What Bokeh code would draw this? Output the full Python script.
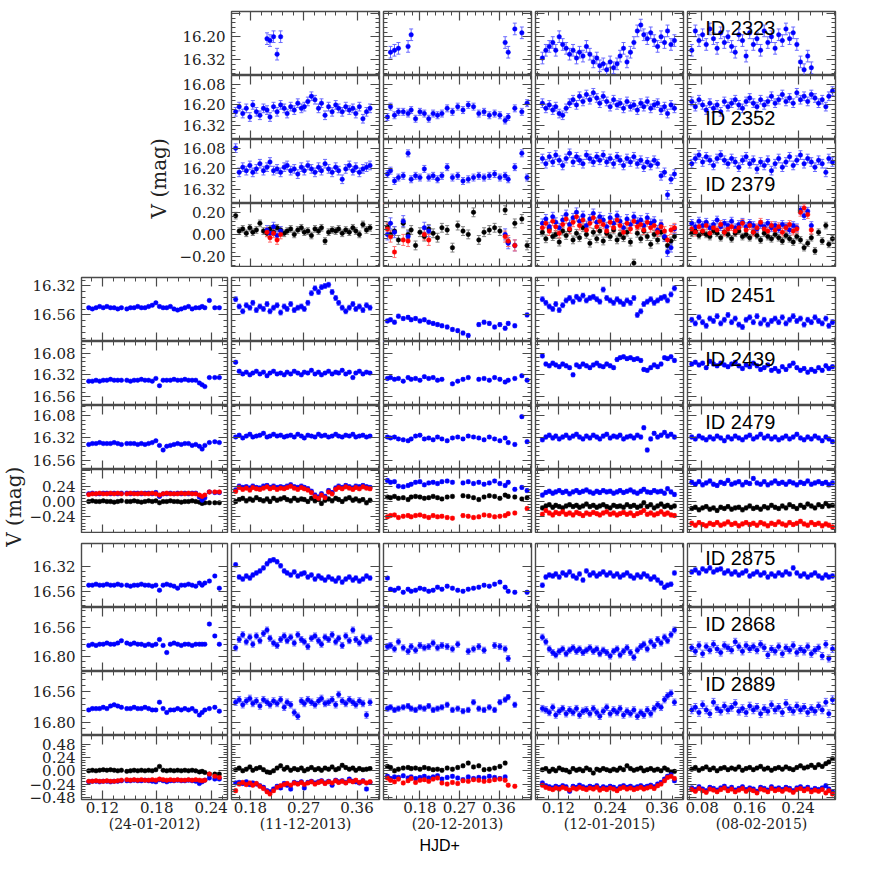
import sys
import math
import numpy as np
from bokeh.plotting import figure
from bokeh.models import (ColumnDataSource, Range1d, LinearAxis, FixedTicker,
                          Whisker, TeeHead, Label, Spacer, PrintfTickFormatter,
                          CustomJSTickFormatter, Title, GridBox)
from bokeh.embed import file_html
from bokeh.resources import INLINE

nan = float("nan")

# ---------------- observation times (HJD fraction) per night ----------------
t_n1 = [0.105, 0.109, 0.113, 0.117, 0.121, 0.125, 0.129, 0.133, 0.137, 0.141,
        0.147, 0.151, 0.155, 0.159, 0.163, 0.167, 0.171, 0.175, 0.179, 0.183,
        0.187, 0.191, 0.195, 0.199, 0.203, 0.207, 0.211, 0.215, 0.219, 0.223,
        0.227, 0.230, 0.233, 0.238, 0.244, 0.249]
t_n2 = [0.155, 0.161, 0.167, 0.173, 0.179, 0.184, 0.190, 0.196, 0.202, 0.208,
        0.213, 0.219, 0.225, 0.231, 0.237, 0.242, 0.248, 0.254, 0.260, 0.266,
        0.271, 0.277, 0.283, 0.289, 0.295, 0.300, 0.306, 0.312, 0.318, 0.324,
        0.329, 0.335, 0.341, 0.347, 0.353, 0.358, 0.364, 0.370, 0.376, 0.382]
t_n3 = [0.106, 0.113, 0.122, 0.131, 0.142, 0.153, 0.160, 0.170, 0.180, 0.190,
        0.200, 0.210, 0.220, 0.230, 0.242, 0.254, 0.266, 0.278, 0.290, 0.302,
        0.314, 0.326, 0.338, 0.350, 0.362, 0.374, 0.381, 0.396, 0.412, 0.424]
t_n4 = [0.083, 0.091, 0.099, 0.107, 0.114, 0.122, 0.130, 0.138, 0.146, 0.154,
        0.162, 0.169, 0.177, 0.185, 0.193, 0.201, 0.209, 0.216, 0.224, 0.232,
        0.240, 0.248, 0.256, 0.263, 0.271, 0.279, 0.287, 0.295, 0.303, 0.311,
        0.318, 0.326, 0.334, 0.342, 0.350, 0.358, 0.366, 0.373, 0.381, 0.389]
t_n5 = [0.064, 0.070, 0.076, 0.082, 0.088, 0.094, 0.100, 0.106, 0.112, 0.118,
        0.124, 0.130, 0.136, 0.142, 0.148, 0.154, 0.160, 0.166, 0.172, 0.178,
        0.184, 0.190, 0.196, 0.202, 0.208, 0.214, 0.220, 0.226, 0.232, 0.238,
        0.244, 0.250, 0.256, 0.262, 0.268, 0.274, 0.280, 0.286, 0.291, 0.297]

night_dates = ["(24-01-2012)", "(11-12-2013)", "(20-12-2013)", "(12-01-2015)", "(08-02-2015)"]

# ---------------- top group: ID 2323, ID 2352, ID 2379 (nights 2-5) ----------------
id2323_n2 = [nan] * 9 + [16.21, 16.22, 16.20, 16.29, 16.20] + [nan] * 26
id2323_n3 = [nan, 16.28, 16.27, 16.26, nan, 16.25, 16.19, nan, nan, nan,
             nan, nan, nan, nan, nan, nan, nan, nan, nan, nan,
             nan, nan, nan, nan, nan, 16.23, 16.28, 16.16, 16.18, nan]
id2323_n4 = [16.31, 16.27, 16.25, 16.23, 16.27, 16.20, 16.24, 16.26, 16.29, 16.27,
             16.31, 16.28, 16.30, 16.25, 16.29, 16.33, 16.31, 16.35, 16.34, 16.37,
             16.33, 16.36, 16.34, 16.30, 16.26, 16.33, 16.28, 16.23, 16.17, 16.14,
             16.19, 16.21, 16.18, 16.22, 16.25, 16.20, 16.23, 16.17, 16.24, 16.22]
id2323_n5 = [16.27, 16.17, 16.22, 16.19, 16.24, 16.16, 16.21, 16.26, 16.18, 16.23,
             16.20, 16.25, 16.28, 16.19, 16.22, 16.30, 16.18, 16.24, 16.21, 16.27,
             16.17, 16.23, 16.20, 16.26, 16.19, 16.22, 16.16, 16.21, 16.18, 16.24,
             16.33, 16.37, 16.30, 16.36, nan, nan, nan, nan, nan, nan]

id2352_n2 = [16.24, 16.21, 16.25, 16.22, 16.27, 16.20, 16.24, 16.26, 16.22, 16.23,
             16.27, 16.21, 16.24, 16.20, 16.22, 16.25, 16.21, 16.23, 16.19, 16.22,
             16.21, 16.18, 16.15, 16.17, 16.22, 16.19, 16.26, 16.21, 16.24, 16.20,
             16.22, 16.24, 16.21, 16.23, 16.22, 16.25, 16.21, 16.28, 16.24, 16.22]
id2352_n3 = [16.27, 16.21, 16.26, 16.24, 16.24, 16.25, 16.23, 16.28, 16.24, 16.25,
             16.28, 16.25, 16.26, 16.25, 16.22, 16.24, 16.21, 16.23, 16.20, 16.21,
             16.25, 16.24, 16.26, 16.25, 16.26, 16.29, 16.27, 16.22, 16.24, 16.19]
id2352_n4 = [16.19, 16.22, 16.20, 16.23, 16.21, 16.25, 16.26, 16.22, 16.19, 16.17,
             16.20, 16.15, 16.18, 16.14, 16.17, 16.13, 16.16, 16.19, 16.15, 16.18,
             16.21, 16.17, 16.20, 16.19, 16.22, 16.18, 16.21, 16.20, 16.23, 16.19,
             16.21, 16.18, 16.22, 16.20, 16.19, 16.23, 16.21, 16.25, 16.20, 16.22]
id2352_n5 = [16.18, 16.21, 16.17, 16.20, 16.23, 16.19, 16.22, 16.20, 16.24, 16.18,
             16.21, 16.19, 16.17, 16.20, 16.22, 16.18, 16.16, 16.19, 16.21, 16.17,
             16.20, 16.18, 16.15, 16.19, 16.17, 16.14, 16.18, 16.16, 16.19, 16.13,
             16.17, 16.15, 16.18, 16.14, 16.16, 16.19, 16.17, 16.21, 16.15, 16.12]

id2379_n2 = [16.08, 16.22, 16.19, 16.21, 16.18, 16.22, 16.20, 16.17, 16.21, 16.19,
             16.16, 16.21, 16.20, 16.22, 16.19, 16.18, 16.21, 16.20, 16.23, 16.19,
             16.21, 16.18, 16.20, 16.22, 16.19, 16.21, 16.17, 16.20, 16.22, 16.19,
             16.21, 16.26, 16.20, 16.18, 16.21, 16.19, 16.22, 16.20, 16.19, 16.18]
id2379_n3 = [16.23, 16.21, 16.27, 16.25, 16.24, 16.11, 16.26, 16.24, 16.25, 16.20,
             16.25, 16.24, 16.26, 16.24, 16.19, 16.25, 16.24, 16.27, 16.26, 16.25,
             16.24, 16.25, 16.24, 16.23, 16.25, 16.24, 16.26, 16.19, 16.11, 16.25]
id2379_n4 = [16.14, 16.17, 16.13, 16.16, 16.12, 16.15, 16.18, 16.14, 16.11, 16.16,
             16.13, 16.15, 16.17, 16.12, 16.14, 16.16, 16.13, 16.15, 16.12, 16.16,
             16.14, 16.17, 16.13, 16.15, 16.18, 16.14, 16.16, 16.13, 16.17, 16.15,
             16.19, 16.16, 16.18, 16.15, 16.17, 16.24, 16.22, 16.35, 16.26, 16.23]
id2379_n5 = [16.17, 16.14, 16.12, 16.16, 16.13, 16.15, 16.18, 16.14, 16.12, 16.15,
             16.17, 16.14, 16.16, 16.19, 16.15, 16.13, 16.17, 16.15, 16.20, 16.16,
             16.18, 16.15, 16.21, 16.17, 16.14, 16.19, 16.16, 16.13, 16.18, 16.15,
             16.12, 16.17, 16.14, 16.16, 16.19, 16.15, 16.17, 16.22, 16.14, 16.16]

dtop_k_n2 = [0.17, 0.03, 0.05, 0.01, 0.06, 0.02, 0.04, 0.10, 0.03, 0.01,
             0.05, 0.02, 0.06, 0.04, 0.01, 0.03, 0.05, 0.00, 0.04, 0.06,
             0.02, 0.03, -0.01, 0.05, 0.03, 0.06, -0.06, 0.02, 0.04, 0.03,
             0.05, 0.01, 0.04, 0.02, 0.06, 0.03, 0.00, 0.09, 0.04, 0.06]
dtop_b_n2 = [nan] * 9 + [0.04, 0.01, 0.07, -0.01, 0.03] + [nan] * 26
dtop_r_n2 = [nan] * 9 + [0.02, -0.03, 0.01, -0.05, 0.00] + [nan] * 26
dtop_k_n3 = [0.07, 0.00, 0.03, -0.05, 0.10, 0.00, 0.04, -0.10, 0.02, -0.02,
             0.05, 0.01, -0.03, 0.06, 0.04, -0.12, 0.08, 0.03, 0.00, 0.20,
             -0.05, 0.02, 0.04, 0.06, 0.03, 0.22, -0.07, 0.10, 0.14, -0.10]
dtop_b_n3 = [0.00, 0.10, 0.02, nan, 0.12, -0.02, nan, nan, nan, 0.06,
             0.03, nan, nan, nan, nan, nan, nan, nan, nan, nan,
             nan, nan, nan, nan, nan, 0.00, -0.08, -0.10, nan, nan]
dtop_r_n3 = [0.05, -0.02, -0.16, nan, -0.05, -0.06, nan, nan, nan, 0.00,
             -0.05, nan, nan, nan, nan, nan, nan, nan, nan, nan,
             nan, nan, nan, nan, nan, -0.02, -0.06, -0.10, nan, nan]
dtop_k_n4 = [0.02, -0.04, 0.05, -0.02, 0.00, -0.07, 0.03, -0.01, 0.04, -0.05,
             0.01, -0.03, 0.06, 0.00, -0.08, 0.02, -0.04, 0.03, -0.06, 0.01,
             -0.02, 0.04, -0.05, 0.00, -0.03, 0.02, -0.07, -0.26, 0.01, -0.04,
             0.03, -0.02, -0.09, 0.00, -0.05, 0.02, -0.03, -0.10, -0.06, -0.02]
dtop_b_n4 = [0.10, 0.14, 0.07, 0.16, 0.11, 0.06, 0.13, 0.18, 0.09, 0.15,
             0.20, 0.12, 0.17, 0.08, 0.14, 0.19, 0.11, 0.16, 0.13, 0.07,
             0.15, 0.10, 0.17, 0.12, 0.06, 0.14, 0.09, 0.16, 0.11, 0.13,
             0.08, 0.15, 0.10, 0.12, 0.04, 0.09, -0.02, -0.16, -0.12, 0.05]
dtop_r_n4 = [0.06, 0.10, 0.03, 0.12, 0.07, 0.01, 0.09, 0.14, 0.05, 0.11,
             0.16, 0.08, 0.13, 0.04, 0.10, 0.15, 0.07, 0.12, 0.09, 0.03,
             0.11, 0.06, 0.13, 0.08, 0.02, 0.10, 0.05, 0.12, 0.07, 0.09,
             0.04, 0.11, 0.06, 0.08, 0.02, 0.07, 0.03, -0.05, 0.04, 0.06]
dtop_k_n5 = [0.01, 0.03, -0.01, 0.02, 0.00, -0.02, 0.03, 0.01, -0.03, 0.02,
             0.00, -0.04, 0.01, 0.03, -0.02, 0.00, -0.03, 0.02, -0.01, -0.05,
             0.01, -0.02, -0.04, 0.00, -0.03, -0.06, -0.01, -0.04, -0.07, -0.02,
             -0.05, -0.12, -0.08, -0.03, -0.15, 0.02, -0.06, 0.08, -0.09, -0.04]
dtop_b_n5 = [0.10, 0.07, 0.12, 0.08, 0.11, 0.06, 0.09, 0.13, 0.07, 0.10,
             0.08, 0.12, 0.06, 0.09, 0.11, 0.07, 0.10, 0.08, 0.05, 0.09,
             0.07, 0.10, 0.06, 0.08, 0.05, 0.09, 0.07, 0.04, 0.08, 0.06,
             0.22, 0.17, 0.21, 0.08, nan, nan, nan, nan, nan, nan]
dtop_r_n5 = [0.05, 0.02, 0.07, 0.03, 0.08, 0.01, 0.06, 0.04, 0.09, 0.02,
             0.05, 0.07, 0.03, 0.06, 0.10, 0.04, 0.08, 0.02, 0.06, 0.11,
             0.05, 0.03, 0.08, 0.04, 0.07, 0.02, 0.06, 0.09, 0.03, 0.05,
             0.20, 0.24, 0.18, 0.04, nan, nan, nan, nan, nan, nan]

# ---------------- middle group: ID 2451, ID 2439, ID 2479 (nights 1-5) ----------------
id2451_n1 = [16.50, 16.51, 16.50, 16.49, 16.50, 16.49, 16.50, 16.50, 16.51, 16.50,
             16.51, 16.50, 16.50, 16.49, 16.50, 16.50, 16.49, 16.48, 16.46, 16.49,
             16.50, 16.50, 16.49, 16.51, 16.52, 16.51, 16.50, 16.49, 16.51, 16.50,
             16.50, 16.49, 16.50, 16.44, 16.50, 16.50]
id2451_n2 = [16.43, 16.49, 16.53, 16.48, 16.50, 16.46, 16.52, 16.49, 16.51, 16.47,
             16.53, 16.50, 16.48, 16.54, 16.49, 16.51, 16.47, 16.52, 16.50, 16.49,
             16.51, 16.46, 16.38, 16.34, 16.37, 16.33, 16.32, 16.31, 16.37, 16.42,
             16.46, 16.50, 16.53, 16.50, 16.47, 16.51, 16.49, 16.52, 16.48, 16.50]
id2451_n3 = [16.61, 16.60, 16.62, 16.57, 16.59, 16.58, 16.60, 16.59, 16.61, 16.60,
             16.62, 16.63, 16.64, 16.65, 16.66, 16.68, 16.69, 16.71, 16.73, nan,
             16.64, 16.62, 16.63, 16.66, 16.64, 16.67, 16.63, 16.65, nan, 16.56]
id2451_n4 = [16.43, 16.46, 16.49, 16.51, 16.47, 16.52, 16.48, 16.44, 16.42, 16.45,
             16.41, 16.43, 16.40, 16.44, 16.42, 16.41, 16.43, 16.45, 16.35, 16.42,
             16.44, 16.46, 16.43, 16.45, 16.47, 16.44, 16.46, 16.42, 16.56, 16.53,
             16.47, 16.45, 16.43, 16.46, 16.44, 16.42, 16.41, 16.44, 16.39, 16.34]
id2451_n5 = [16.60, 16.63, 16.58, 16.62, 16.65, 16.59, 16.61, 16.57, 16.63, 16.60,
             16.56, 16.62, 16.59, 16.64, 16.66, 16.60, 16.58, 16.62, 16.57, 16.63,
             16.60, 16.64, 16.61, 16.59, 16.62, 16.58, 16.63, 16.60, 16.57, 16.61,
             16.59, 16.64, 16.60, 16.62, 16.58, 16.61, 16.63, 16.59, 16.65, 16.62]

id2439_n1 = [16.39, 16.39, 16.38, 16.39, 16.38, 16.38, 16.37, 16.38, 16.38, 16.38,
             16.38, 16.39, 16.38, 16.38, 16.37, 16.38, 16.38, 16.39, 16.36, 16.44,
             16.38, 16.38, 16.38, 16.37, 16.38, 16.38, 16.37, 16.38, 16.38, 16.38,
             16.41, 16.43, 16.45, 16.35, 16.35, 16.35]
id2439_n2 = [16.18, 16.28, 16.31, 16.29, 16.32, 16.30, 16.28, 16.31, 16.29, 16.33,
             16.30, 16.28, 16.31, 16.30, 16.32, 16.29, 16.31, 16.28, 16.30, 16.32,
             16.29, 16.30, 16.27, 16.31, 16.29, 16.32, 16.30, 16.28, 16.31, 16.29,
             16.30, 16.27, 16.31, 16.29, 16.35, 16.30, 16.28, 16.31, 16.29, 16.30]
id2439_n3 = [16.36, 16.35, 16.37, 16.36, 16.39, 16.35, 16.37, 16.36, 16.38, 16.34,
             16.36, 16.35, 16.38, 16.37, nan, 16.42, 16.39, 16.37, 16.35, nan,
             16.37, 16.36, 16.38, 16.35, 16.37, 16.40, 16.38, 16.36, 16.33, 16.38]
id2439_n4 = [16.11, 16.20, 16.22, 16.19, 16.21, 16.23, 16.20, 16.22, 16.24, 16.32,
             16.21, 16.23, 16.20, 16.22, 16.24, 16.21, 16.19, 16.22, 16.23, 16.20,
             16.22, 16.24, 16.15, 16.13, 16.12, 16.14, 16.13, 16.15, 16.14, 16.16,
             16.26, 16.27, 16.24, 16.21, 16.23, 16.20, 16.13, 16.14, 16.12, 16.16]
id2439_n5 = [16.20, 16.18, 16.21, 16.19, 16.24, 16.17, 16.20, 16.22, 16.19, 16.21,
             16.23, 16.20, 16.18, 16.22, 16.25, 16.21, 16.23, 16.19, 16.22, 16.26,
             16.24, 16.21, 16.27, 16.25, 16.28, 16.23, 16.26, 16.22, 16.19, 16.24,
             16.27, 16.25, 16.29, 16.26, 16.28, 16.24, 16.27, 16.22, 16.25, 16.23]

id2479_n1 = [16.39, 16.38, 16.38, 16.37, 16.38, 16.38, 16.38, 16.37, 16.38, 16.39,
             16.38, 16.38, 16.38, 16.39, 16.38, 16.39, 16.38, 16.37, 16.35, 16.40,
             16.45, 16.41, 16.40, 16.39, 16.38, 16.39, 16.38, 16.38, 16.40, 16.39,
             16.41, 16.44, 16.40, 16.37, 16.36, 16.37]
id2479_n2 = [16.31, 16.29, 16.32, 16.30, 16.28, 16.31, 16.30, 16.29, 16.27, 16.31,
             16.30, 16.28, 16.30, 16.29, 16.31, 16.30, 16.29, 16.31, 16.28, 16.30,
             16.32, 16.29, 16.30, 16.31, 16.28, 16.30, 16.29, 16.31, 16.30, 16.28,
             16.30, 16.31, 16.29, 16.30, 16.28, 16.31, 16.30, 16.29, 16.31, 16.30]
id2479_n3 = [16.31, 16.32, 16.31, 16.33, 16.34, 16.35, 16.33, 16.30, 16.29, 16.33,
             16.32, 16.34, 16.31, 16.33, 16.35, 16.32, 16.31, 16.33, 16.30, 16.31,
             16.32, 16.34, 16.31, 16.33, 16.35, 16.32, 16.37, 16.39, 16.09, 16.36]
id2479_n4 = [16.34, 16.31, 16.29, 16.32, 16.30, 16.33, 16.31, 16.29, 16.32, 16.30,
             16.28, 16.31, 16.33, 16.30, 16.32, 16.29, 16.31, 16.33, 16.30, 16.28,
             16.32, 16.30, 16.31, 16.29, 16.33, 16.31, 16.30, 16.32, 16.29, 16.31,
             16.21, 16.45, 16.33, 16.27, 16.31, 16.29, 16.26, 16.30, 16.28, 16.31]
id2479_n5 = [16.31, 16.33, 16.30, 16.32, 16.34, 16.31, 16.33, 16.30, 16.32, 16.35,
             16.31, 16.33, 16.30, 16.32, 16.34, 16.31, 16.29, 16.33, 16.31, 16.28,
             16.32, 16.30, 16.33, 16.31, 16.34, 16.32, 16.30, 16.33, 16.31, 16.28,
             16.32, 16.34, 16.31, 16.33, 16.30, 16.32, 16.35, 16.31, 16.33, 16.36]

dmid_k_n1 = [0.00, 0.01, 0.00, 0.00, 0.01, 0.00, 0.00, -0.01, 0.00, 0.01,
             0.00, 0.00, 0.01, 0.00, -0.01, 0.00, 0.01, 0.00, 0.01, -0.02,
             0.00, 0.00, 0.01, 0.00, 0.00, -0.01, 0.00, 0.00, 0.01, 0.00,
             -0.01, -0.03, -0.02, -0.02, -0.02, -0.02]
dmid_b_n1 = [0.12, 0.13, 0.12, 0.12, 0.13, 0.13, 0.12, 0.13, 0.12, 0.13,
             0.13, 0.12, 0.13, 0.13, 0.12, 0.13, 0.13, 0.12, 0.14, 0.08,
             0.12, 0.12, 0.13, 0.12, 0.13, 0.12, 0.13, 0.12, 0.13, 0.13,
             0.07, 0.02, 0.06, 0.15, 0.14, 0.14]
dmid_r_n1 = [0.11, 0.12, 0.12, 0.13, 0.12, 0.12, 0.13, 0.12, 0.13, 0.12,
             0.12, 0.13, 0.12, 0.12, 0.13, 0.12, 0.12, 0.13, 0.12, 0.10,
             0.12, 0.13, 0.12, 0.12, 0.12, 0.13, 0.12, 0.13, 0.12, 0.12,
             0.10, 0.08, 0.10, 0.15, 0.15, 0.15]
dmid_k_n2 = [0.00, 0.03, 0.05, 0.01, 0.04, 0.02, 0.06, 0.03, 0.01, 0.04,
             0.00, 0.05, 0.02, 0.04, 0.06, 0.03, 0.01, 0.05, 0.02, 0.04,
             0.03, 0.00, 0.05, 0.01, 0.03, -0.03, 0.02, 0.04, 0.01, 0.05,
             0.03, 0.00, 0.04, 0.06, 0.02, 0.04, 0.01, 0.03, -0.02, 0.02]
dmid_b_n2 = [0.18, 0.24, 0.22, 0.23, 0.21, 0.24, 0.22, 0.21, 0.24, 0.25,
             0.22, 0.24, 0.22, 0.23, 0.22, 0.24, 0.26, 0.23, 0.22, 0.24,
             0.22, 0.20, 0.16, 0.10, 0.07, 0.12, 0.08, 0.17, 0.14, 0.21,
             0.24, 0.22, 0.25, 0.23, 0.21, 0.24, 0.23, 0.25, 0.23, 0.22]
dmid_r_n2 = [0.16, 0.22, 0.19, 0.21, 0.18, 0.22, 0.20, 0.19, 0.21, 0.23,
             0.20, 0.22, 0.19, 0.21, 0.20, 0.22, 0.24, 0.21, 0.19, 0.22,
             0.20, 0.18, 0.14, 0.08, 0.05, 0.10, 0.06, 0.15, 0.12, 0.19,
             0.22, 0.20, 0.23, 0.21, 0.19, 0.22, 0.20, 0.23, 0.21, 0.20]
dmid_k_n3 = [0.07, 0.06, 0.08, 0.05, 0.06, 0.03, 0.07, 0.08, 0.07, 0.05,
             0.06, 0.08, 0.06, 0.04, 0.07, 0.08, nan, 0.09, 0.08, 0.06,
             0.03, 0.07, 0.09, 0.08, 0.05, 0.10, 0.08, 0.07, 0.04, 0.06]
dmid_b_n3 = [0.33, 0.30, 0.31, 0.24, 0.23, 0.25, 0.27, 0.30, 0.31, 0.26,
             0.29, 0.30, 0.28, 0.31, 0.32, 0.30, nan, 0.29, 0.31, 0.28,
             0.30, 0.27, 0.29, 0.32, 0.28, 0.25, 0.30, 0.19, 0.22, 0.17]
dmid_r_n3 = [-0.24, -0.22, -0.21, -0.25, -0.23, -0.22, -0.24, -0.22, -0.21, -0.23,
             -0.25, -0.22, -0.24, -0.23, -0.25, -0.26, nan, -0.22, -0.23, -0.25,
             -0.24, -0.21, -0.22, -0.24, -0.23, -0.22, -0.19, -0.18, nan, -0.11]
dmid_k_n4 = [-0.10, -0.07, -0.05, -0.09, -0.06, -0.08, -0.10, -0.07, -0.05, -0.08,
             -0.06, -0.09, -0.07, -0.04, -0.08, -0.06, -0.09, -0.07, -0.05, -0.08,
             -0.10, -0.06, -0.08, -0.07, -0.09, -0.05, -0.08, -0.06, -0.09, -0.07,
             -0.02, -0.08, -0.05, -0.10, -0.07, -0.04, -0.08, -0.06, -0.09, -0.07]
dmid_b_n4 = [0.10, 0.14, 0.16, 0.13, 0.15, 0.17, 0.14, 0.16, 0.12, 0.15,
             0.17, 0.14, 0.16, 0.18, 0.15, 0.13, 0.16, 0.14, 0.17, 0.15,
             0.16, 0.13, 0.15, 0.17, 0.14, 0.16, 0.18, 0.15, 0.13, 0.16,
             0.19, 0.15, 0.14, 0.17, 0.15, 0.16, 0.13, 0.20, 0.15, 0.11]
dmid_r_n4 = [-0.20, -0.14, -0.18, -0.21, -0.17, -0.19, -0.16, -0.20, -0.18, -0.21,
             -0.17, -0.19, -0.22, -0.18, -0.20, -0.17, -0.19, -0.21, -0.18, -0.16,
             -0.20, -0.18, -0.21, -0.19, -0.17, -0.20, -0.18, -0.22, -0.19, -0.17,
             -0.14, -0.20, -0.18, -0.21, -0.19, -0.16, -0.20, -0.18, -0.21, -0.22]
dmid_k_n5 = [-0.11, -0.09, -0.13, -0.10, -0.08, -0.12, -0.10, -0.14, -0.09, -0.11,
             -0.08, -0.12, -0.10, -0.09, -0.13, -0.10, -0.07, -0.11, -0.09, -0.12,
             -0.08, -0.10, -0.06, -0.09, -0.11, -0.07, -0.10, -0.05, -0.08, -0.11,
             -0.06, -0.09, -0.04, -0.07, -0.10, -0.05, -0.08, -0.03, -0.07, -0.06]
dmid_b_n5 = [0.30, 0.27, 0.31, 0.26, 0.29, 0.32, 0.27, 0.25, 0.30, 0.28,
             0.33, 0.27, 0.29, 0.31, 0.26, 0.30, 0.28, 0.36, 0.29, 0.27,
             0.31, 0.26, 0.29, 0.32, 0.28, 0.30, 0.27, 0.31, 0.29, 0.26,
             0.30, 0.28, 0.32, 0.27, 0.29, 0.31, 0.28, 0.30, 0.26, 0.29]
dmid_r_n5 = [-0.34, -0.37, -0.33, -0.36, -0.38, -0.34, -0.36, -0.33, -0.37, -0.35,
             -0.32, -0.36, -0.34, -0.38, -0.35, -0.33, -0.36, -0.34, -0.37, -0.33,
             -0.35, -0.38, -0.34, -0.36, -0.32, -0.35, -0.37, -0.33, -0.36, -0.34,
             -0.31, -0.35, -0.37, -0.33, -0.36, -0.34, -0.38, -0.35, -0.37, -0.40]

# ---------------- bottom group: ID 2875, ID 2868, ID 2889 (nights 1-5) ----------------
id2875_n1 = [16.50, 16.50, 16.49, 16.50, 16.50, 16.49, 16.50, 16.50, 16.49, 16.50,
             16.50, 16.51, 16.50, 16.50, 16.49, 16.50, 16.50, 16.51, 16.50, 16.55,
             16.50, 16.49, 16.50, 16.51, 16.53, 16.50, 16.50, 16.49, 16.50, 16.51,
             16.48, 16.50, 16.48, 16.46, 16.41, 16.53]
id2875_n2 = [16.30, 16.42, 16.44, 16.41, 16.43, 16.40, 16.38, 16.36, 16.33, 16.29,
             16.26, 16.25, 16.27, 16.31, 16.36, 16.38, 16.40, 16.37, 16.41, 16.39,
             16.38, 16.42, 16.40, 16.44, 16.41, 16.43, 16.45, 16.42, 16.44, 16.46,
             16.43, 16.47, 16.44, 16.42, 16.45, 16.43, 16.46, 16.44, 16.41, 16.43]
id2875_n3 = [16.43, 16.54, 16.55, 16.53, 16.57, 16.54, 16.56, 16.55, 16.53, 16.54,
             16.56, 16.55, 16.52, 16.54, 16.51, 16.53, 16.55, 16.56, 16.54, 16.53,
             16.52, 16.50, 16.51, 16.49, 16.47, 16.52, 16.56, 16.57, nan, 16.57]
id2875_n4 = [16.50, 16.42, 16.40, 16.41, 16.39, 16.42, 16.38, 16.40, 16.37, 16.41,
             16.43, 16.39, 16.45, 16.36, 16.40, 16.38, 16.41, 16.39, 16.37, 16.40,
             16.38, 16.41, 16.39, 16.42, 16.40, 16.38, 16.41, 16.43, 16.40, 16.42,
             16.39, 16.41, 16.44, 16.42, 16.45, 16.48, 16.52, 16.50, 16.49, 16.38]
id2875_n5 = [16.37, 16.35, 16.38, 16.34, 16.36, 16.33, 16.37, 16.35, 16.34, 16.38,
             16.36, 16.39, 16.37, 16.40, 16.38, 16.36, 16.41, 16.39, 16.37, 16.40,
             16.38, 16.42, 16.39, 16.41, 16.38, 16.40, 16.37, 16.39, 16.33, 16.38,
             16.41, 16.39, 16.42, 16.40, 16.38, 16.41, 16.43, 16.40, 16.42, 16.41]

id2868_n1 = [16.71, 16.70, 16.71, 16.70, 16.70, 16.69, 16.70, 16.70, 16.69, 16.67,
             16.69, 16.70, 16.69, 16.70, 16.70, 16.71, 16.70, 16.71, 16.70, 16.66,
             16.71, 16.77, 16.70, 16.69, 16.70, 16.71, 16.70, 16.70, 16.71, 16.70,
             16.70, 16.70, 16.70, 16.53, 16.63, 16.70]
id2868_n2 = [16.73, 16.66, 16.62, 16.68, 16.64, 16.70, 16.63, 16.67, 16.61, 16.58,
             16.65, 16.69, 16.71, 16.66, 16.63, 16.67, 16.64, 16.69, 16.62, 16.66,
             16.68, 16.72, 16.65, 16.63, 16.67, 16.70, 16.64, 16.66, 16.62, 16.68,
             16.65, 16.71, 16.63, 16.67, 16.58, 16.66, 16.69, 16.64, 16.67, 16.65]
id2868_n3 = [16.72, 16.71, 16.74, 16.68, 16.73, 16.76, 16.72, 16.75, 16.71, 16.73,
             16.72, 16.69, 16.73, 16.71, 16.72, 16.74, 16.70, nan, 16.76, 16.74,
             16.72, 16.75, nan, 16.71, 16.72, 16.74, 16.82, nan, nan, nan]
id2868_n4 = [16.64, 16.68, 16.74, 16.77, 16.79, 16.76, 16.74, 16.78, 16.75, 16.73,
             16.76, 16.74, 16.77, 16.75, 16.73, 16.76, 16.74, 16.78, 16.75, 16.77,
             16.80, 16.76, 16.74, 16.79, 16.76, 16.73, 16.77, 16.81, 16.75, 16.72,
             16.70, 16.74, 16.68, 16.71, 16.66, 16.69, 16.64, 16.67, 16.62, 16.58]
id2868_n5 = [16.73, 16.76, 16.71, 16.78, 16.72, 16.75, 16.70, 16.74, 16.77, 16.71,
             16.73, 16.75, 16.68, 16.72, 16.76, 16.71, 16.74, 16.72, 16.75, 16.70,
             16.73, 16.79, 16.74, 16.76, 16.72, 16.78, 16.73, 16.75, 16.71, 16.77,
             16.74, 16.76, 16.72, 16.78, 16.75, 16.73, 16.80, 16.70, 16.82, 16.74]

id2889_n1 = [16.70, 16.69, 16.69, 16.69, 16.68, 16.69, 16.67, 16.66, 16.67, 16.68,
             16.69, 16.69, 16.68, 16.69, 16.69, 16.68, 16.69, 16.70, 16.70, 16.64,
             16.69, 16.72, 16.70, 16.70, 16.69, 16.70, 16.69, 16.70, 16.69, 16.71,
             16.74, 16.72, 16.70, 16.69, 16.68, 16.71]
id2889_n2 = [16.64, 16.62, 16.66, 16.63, 16.61, 16.65, 16.63, 16.67, 16.62, 16.64,
             16.66, 16.63, 16.65, 16.62, 16.68, 16.64, 16.66, 16.72, 16.75, 16.63,
             16.65, 16.62, 16.64, 16.66, 16.63, 16.61, 16.65, 16.64, 16.62, 16.66,
             16.58, 16.63, 16.65, 16.62, 16.64, 16.66, 16.63, 16.65, 16.74, 16.64]
id2889_n3 = [16.69, 16.68, 16.70, 16.69, 16.68, 16.67, 16.69, 16.70, 16.68, 16.69,
             16.67, 16.70, 16.69, 16.68, 16.66, 16.70, 16.69, 16.71, 16.70, 16.64,
             16.69, 16.70, 16.68, 16.70, 16.64, 16.62, 16.60, 16.66, nan, nan]
id2889_n4 = [16.69, 16.70, 16.72, 16.68, 16.74, 16.71, 16.69, 16.73, 16.70, 16.72,
             16.69, 16.74, 16.71, 16.70, 16.73, 16.69, 16.72, 16.75, 16.71, 16.68,
             16.73, 16.70, 16.72, 16.69, 16.74, 16.71, 16.73, 16.70, 16.75, 16.72,
             16.74, 16.70, 16.73, 16.69, 16.66, 16.68, 16.62, 16.59, 16.57, 16.64]
id2889_n5 = [16.70, 16.68, 16.72, 16.66, 16.70, 16.73, 16.64, 16.69, 16.71, 16.67,
             16.70, 16.68, 16.65, 16.71, 16.69, 16.72, 16.67, 16.70, 16.68, 16.73,
             16.69, 16.71, 16.66, 16.70, 16.68, 16.72, 16.65, 16.69, 16.71, 16.67,
             16.70, 16.68, 16.72, 16.69, 16.71, 16.67, 16.70, 16.64, 16.73, 16.62]

dbot_k_n1 = [0.00, 0.01, 0.00, 0.01, 0.02, 0.01, 0.02, 0.01, 0.00, 0.01,
             -0.01, 0.00, 0.01, 0.00, 0.01, 0.00, 0.01, 0.00, 0.02, 0.08,
             0.01, 0.00, 0.01, 0.00, 0.01, 0.00, 0.01, 0.00, 0.01, 0.00,
             -0.02, -0.01, -0.03, -0.06, -0.06, -0.06]
dbot_b_n1 = [-0.20, -0.19, -0.19, -0.20, -0.19, -0.19, -0.20, -0.19, -0.19, -0.18,
             -0.18, -0.18, -0.17, -0.18, -0.18, -0.17, -0.18, -0.19, -0.20, -0.16,
             -0.18, -0.20, -0.18, -0.18, -0.17, -0.18, -0.18, -0.17, -0.18, -0.19,
             -0.23, -0.20, -0.17, -0.13, -0.15, -0.15]
dbot_r_n1 = [-0.19, -0.19, -0.18, -0.19, -0.19, -0.18, -0.19, -0.19, -0.18, -0.17,
             -0.16, -0.17, -0.16, -0.17, -0.16, -0.17, -0.17, -0.16, -0.17, -0.15,
             -0.16, -0.17, -0.16, -0.17, -0.16, -0.17, -0.17, -0.16, -0.17, -0.16,
             -0.17, -0.18, -0.17, -0.06, -0.10, -0.12]
dbot_k_n2 = [0.02, 0.05, 0.00, 0.03, 0.07, 0.01, 0.04, 0.06, 0.02, -0.02,
             -0.03, 0.00, 0.05, 0.09, 0.03, 0.06, 0.01, 0.04, 0.02, 0.05,
             0.00, 0.03, 0.06, 0.02, 0.04, 0.01, 0.05, 0.03, 0.07, 0.02,
             0.04, 0.10, 0.06, 0.03, 0.05, 0.01, 0.04, 0.02, 0.03, 0.04]
dbot_b_n2 = [-0.22, -0.21, -0.23, -0.20, -0.25, -0.22, -0.24, -0.27, -0.30, -0.36,
             -0.38, -0.33, -0.28, -0.31, -0.23, -0.26, -0.33, -0.21, -0.23, -0.20,
             -0.31, -0.21, -0.19, -0.22, -0.20, -0.18, -0.22, -0.19, -0.26, -0.17,
             -0.20, -0.18, -0.21, -0.15, -0.19, -0.20, -0.22, -0.18, -0.33, -0.21]
dbot_r_n2 = [-0.36, -0.24, -0.21, -0.25, -0.22, -0.26, -0.23, -0.28, -0.32, -0.38,
             -0.42, -0.36, -0.30, -0.27, -0.25, -0.23, -0.26, -0.22, -0.24, -0.21,
             -0.25, -0.22, -0.20, -0.24, -0.21, -0.19, -0.23, -0.20, -0.22, -0.18,
             -0.21, -0.19, -0.22, -0.18, -0.20, -0.17, -0.21, -0.19, -0.22, -0.20]
dbot_k_n3 = [0.08, 0.06, 0.00, 0.03, 0.05, 0.06, 0.04, 0.05, 0.03, 0.06,
             0.04, 0.02, 0.03, 0.01, 0.05, 0.03, 0.06, 0.09, 0.14, 0.07,
             0.09, 0.02, 0.03, 0.05, 0.08, 0.14, nan, nan, nan, nan]
dbot_b_n3 = [-0.10, -0.14, -0.11, -0.12, -0.09, -0.13, -0.11, -0.14, -0.12, -0.10,
             -0.13, -0.11, -0.09, -0.15, -0.12, -0.10, -0.13, -0.16, -0.11, -0.14,
             -0.12, -0.13, -0.10, -0.12, -0.14, -0.11, nan, nan, nan, nan]
dbot_r_n3 = [-0.13, -0.17, -0.20, -0.15, -0.22, -0.18, -0.14, -0.21, -0.17, -0.16,
             -0.19, -0.15, -0.13, -0.22, -0.24, -0.21, -0.23, -0.18, -0.19, -0.16,
             -0.17, -0.19, -0.18, -0.16, -0.15, -0.17, -0.26, -0.28, nan, nan]
dbot_k_n4 = [0.02, 0.04, -0.01, 0.03, 0.00, 0.05, 0.02, 0.01, -0.02, 0.04,
             0.01, 0.03, 0.00, 0.05, 0.02, -0.04, 0.03, 0.01, 0.04, 0.02,
             0.00, 0.03, 0.01, 0.05, 0.02, 0.09, 0.04, 0.01, 0.03, 0.05,
             0.00, 0.02, 0.04, 0.01, 0.03, 0.00, 0.05, 0.02, -0.02, -0.01]
dbot_b_n4 = [-0.22, -0.27, -0.29, -0.31, -0.28, -0.30, -0.27, -0.29, -0.37, -0.28,
             -0.30, -0.26, -0.29, -0.31, -0.28, -0.30, -0.27, -0.32, -0.29, -0.31,
             -0.28, -0.30, -0.33, -0.29, -0.27, -0.30, -0.28, -0.31, -0.29, -0.27,
             -0.30, -0.28, -0.26, -0.29, -0.24, -0.21, -0.15, -0.10, -0.07, -0.18]
dbot_r_n4 = [-0.26, -0.30, -0.32, -0.34, -0.31, -0.33, -0.30, -0.32, -0.35, -0.31,
             -0.33, -0.30, -0.32, -0.34, -0.31, -0.33, -0.30, -0.35, -0.32, -0.34,
             -0.31, -0.33, -0.36, -0.32, -0.30, -0.33, -0.31, -0.34, -0.32, -0.30,
             -0.33, -0.31, -0.29, -0.32, -0.27, -0.24, -0.18, -0.12, -0.10, -0.14]
dbot_k_n5 = [0.03, 0.06, 0.01, 0.04, 0.07, 0.02, 0.05, 0.00, 0.04, 0.06,
             0.02, 0.05, 0.03, 0.07, 0.01, 0.04, 0.06, 0.02, 0.05, 0.08,
             0.03, 0.05, 0.01, 0.04, 0.06, 0.03, 0.07, 0.04, 0.02, 0.06,
             0.09, 0.05, 0.07, 0.10, 0.06, 0.11, 0.08, 0.13, 0.16, 0.22]
dbot_b_n5 = [-0.31, -0.34, -0.29, -0.33, -0.36, -0.30, -0.32, -0.35, -0.31, -0.28,
             -0.33, -0.30, -0.35, -0.32, -0.29, -0.34, -0.31, -0.33, -0.37, -0.30,
             -0.32, -0.35, -0.29, -0.33, -0.31, -0.34, -0.30, -0.32, -0.36, -0.31,
             -0.29, -0.33, -0.30, -0.35, -0.32, -0.34, -0.31, -0.27, -0.33, -0.38]
dbot_r_n5 = [-0.34, -0.37, -0.32, -0.36, -0.39, -0.33, -0.35, -0.38, -0.34, -0.31,
             -0.36, -0.33, -0.38, -0.35, -0.32, -0.37, -0.34, -0.36, -0.40, -0.33,
             -0.35, -0.38, -0.32, -0.36, -0.34, -0.37, -0.33, -0.35, -0.39, -0.34,
             -0.32, -0.36, -0.33, -0.38, -0.35, -0.37, -0.34, -0.40, -0.36, -0.42]

# ---------------- photometric errors (one value per night) ----------------
err_2323 = [0.03, 0.03, 0.03, 0.03]
err_2352 = [0.025, 0.02, 0.025, 0.025]
err_2379 = [0.025, 0.02, 0.025, 0.025]
err_dtop_k = [0.03, 0.04, 0.035, 0.03]
err_dtop_c = [0.04, 0.05, 0.04, 0.035]
err_2451 = [0.01, 0.02, 0.015, 0.02, 0.02]
err_2439 = [0.01, 0.015, 0.015, 0.02, 0.02]
err_2479 = [0.01, 0.015, 0.015, 0.02, 0.02]
err_dmid = [0.02, 0.03, 0.025, 0.03, 0.03]
err_2875 = [0.01, 0.02, 0.015, 0.02, 0.02]
err_2868 = [0.01, 0.025, 0.025, 0.025, 0.03]
err_2889 = [0.01, 0.025, 0.02, 0.025, 0.03]
err_dbot = [0.02, 0.03, 0.03, 0.03, 0.03]

# ---------------- styling / layout constants ----------------
SERIF = "DejaVu Serif"
SANS = "Liberation Sans"
FRAME = "#4a4a4a"
COLORS = {"k": ("#000000", "#808080"), "b": ("#0000ff", "#6a6aff"), "r": ("#ff0000", "#ff7070")}

TIMES = {1: t_n1, 2: t_n2, 3: t_n3, 4: t_n4, 5: t_n5}
X_RANGE = {1: (0.097, 0.258), 2: (0.148, 0.398), 3: (0.097, 0.434), 4: (0.067, 0.410), 5: (0.057, 0.302)}
X_MAJOR = {1: [0.06, 0.12, 0.18, 0.24, 0.30], 2: [0.09, 0.18, 0.27, 0.36, 0.45],
           3: [0.09, 0.18, 0.27, 0.36, 0.45], 4: [0.0, 0.12, 0.24, 0.36, 0.48],
           5: [0.0, 0.08, 0.16, 0.24, 0.32]}
X_SUB = {1: 5, 2: 5, 3: 5, 4: 5, 5: 4}

Y_TOP_STAR = [16.08, 16.20, 16.32, 16.44]
Y_MID_STAR = [15.84, 16.08, 16.32, 16.56, 16.80]
Y_FAINT = [16.32, 16.56, 16.80, 17.04]
Y_D20 = [-0.40, -0.20, 0.00, 0.20, 0.40]
Y_D24 = [-0.48, -0.24, 0.00, 0.24, 0.48]

GROUPS = [
    dict(nights=[2, 3, 4, 5], tb=[11, 0, 0, 0], bb=[0, 0, 0, 0],
         ys=[((16.40, 16.07), Y_TOP_STAR, {16.08}), ((16.40, 16.03), Y_TOP_STAR, set()),
             ((16.40, 16.03), Y_TOP_STAR, set()), ((-0.30, 0.28), Y_D20, set())],
         stars=[("ID 2323", {2: id2323_n2, 3: id2323_n3, 4: id2323_n4, 5: id2323_n5}, err_2323, 0.75),
                ("ID 2352", {2: id2352_n2, 3: id2352_n3, 4: id2352_n4, 5: id2352_n5}, err_2352, 0.33),
                ("ID 2379", {2: id2379_n2, 3: id2379_n3, 4: id2379_n4, 5: id2379_n5}, err_2379, 0.31)],
         diff=[("k", {2: dtop_k_n2, 3: dtop_k_n3, 4: dtop_k_n4, 5: dtop_k_n5}, err_dtop_k),
               ("b", {2: dtop_b_n2, 3: dtop_b_n3, 4: dtop_b_n4, 5: dtop_b_n5}, err_dtop_c),
               ("r", {2: dtop_r_n2, 3: dtop_r_n3, 4: dtop_r_n4, 5: dtop_r_n5}, err_dtop_c)]),
    dict(nights=[1, 2, 3, 4, 5], tb=[10, 0, 0, 0], bb=[0, 0, 0, 0],
         ys=[((16.78, 16.25), Y_MID_STAR, set()), ((16.66, 15.95), Y_MID_STAR, set()),
             ((16.66, 15.97), Y_MID_STAR, set()), ((-0.50, 0.50), Y_D24, {-0.48, 0.48})],
         stars=[("ID 2451", {1: id2451_n1, 2: id2451_n2, 3: id2451_n3, 4: id2451_n4, 5: id2451_n5}, err_2451, 0.73),
                ("ID 2439", {1: id2439_n1, 2: id2439_n2, 3: id2439_n3, 4: id2439_n4, 5: id2439_n5}, err_2439, 0.73),
                ("ID 2479", {1: id2479_n1, 2: id2479_n2, 3: id2479_n3, 4: id2479_n4, 5: id2479_n5}, err_2479, 0.75)],
         diff=[("k", {1: dmid_k_n1, 2: dmid_k_n2, 3: dmid_k_n3, 4: dmid_k_n4, 5: dmid_k_n5}, err_dmid),
               ("b", {1: dmid_b_n1, 2: dmid_b_n2, 3: dmid_b_n3, 4: dmid_b_n4, 5: dmid_b_n5}, err_dmid),
               ("r", {1: dmid_r_n1, 2: dmid_r_n2, 3: dmid_r_n3, 4: dmid_r_n4, 5: dmid_r_n5}, err_dmid)]),
    dict(nights=[1, 2, 3, 4, 5], tb=[10, 0, 0, 0], bb=[0, 0, 0, 54],
         ys=[((16.72, 16.09), Y_FAINT, set()), ((16.93, 16.39), Y_FAINT, set()),
             ((16.90, 16.40), Y_FAINT, set()), ((-0.52, 0.64), Y_D24, set())],
         stars=[("ID 2875", {1: id2875_n1, 2: id2875_n2, 3: id2875_n3, 4: id2875_n4, 5: id2875_n5}, err_2875, 0.77),
                ("ID 2868", {1: id2868_n1, 2: id2868_n2, 3: id2868_n3, 4: id2868_n4, 5: id2868_n5}, err_2868, 0.75),
                ("ID 2889", {1: id2889_n1, 2: id2889_n2, 3: id2889_n3, 4: id2889_n4, 5: id2889_n5}, err_2889, 0.80)],
         diff=[("k", {1: dbot_k_n1, 2: dbot_k_n2, 3: dbot_k_n3, 4: dbot_k_n4, 5: dbot_k_n5}, err_dbot),
               ("b", {1: dbot_b_n1, 2: dbot_b_n2, 3: dbot_b_n3, 4: dbot_b_n4, 5: dbot_b_n5}, err_dbot),
               ("r", {1: dbot_r_n1, 2: dbot_r_n2, 3: dbot_r_n3, 4: dbot_r_n4, 5: dbot_r_n5}, err_dbot)]),
]

# grid tracks: strip | A | B | C | D | E | F
TRACK_W = [26, 144, 59, 152, 152, 152, 152]
PAGE_X0 = 8
ROW_FRAME = 64
TICK_FONT = "15px"
# night -> (first track, span, left border, right border)
COL_POS = {1: (1, 2, 53, 2), 2: (3, 1, 2, 2), 3: (4, 1, 2, 2), 4: (5, 1, 2, 2), 5: (6, 1, 2, 2)}
TOP_COL_POS = {2: (2, 2, 61, 2), 3: (4, 1, 2, 2), 4: (5, 1, 2, 2), 5: (6, 1, 2, 2)}


def minors(majors, sub):
    out = []
    for a, b in zip(majors[:-1], majors[1:]):
        for k in range(1, sub):
            out.append(round(a + (b - a) * k / sub, 6))
    return out


def fmt_y(v):
    s = "%.2f" % abs(v)
    return ("\u2212" + s) if v < 0 else s


def as_arr(vals, n):
    a = np.array(vals, dtype=float)
    if len(a) != n:
        print("length mismatch: %d vs %d" % (len(a), n), file=sys.stderr)
        b = np.full(n, np.nan)
        b[:min(n, len(a))] = a[:min(n, len(a))]
        a = b
    return a


def style_axis(ax, labeled):
    ax.axis_line_color = None
    ax.major_tick_in = 9
    ax.major_tick_out = 0
    ax.minor_tick_in = 4
    ax.minor_tick_out = 0
    ax.major_tick_line_color = FRAME
    ax.minor_tick_line_color = FRAME
    ax.major_tick_line_width = 1.2
    ax.minor_tick_line_width = 1
    if labeled:
        ax.major_label_text_font = SERIF
        ax.major_label_text_font_size = TICK_FONT
        ax.major_label_text_color = "#222222"
        ax.major_label_standoff = 6
    else:
        ax.formatter = CustomJSTickFormatter(code="return ''")
        ax.major_label_text_font_size = "0px"
        ax.major_label_standoff = 0


def make_panel(night, yspec, w, bl, br, h, bt, bb, show_y, show_x):
    (y0, y1), ymaj, yhide = yspec
    x0, x1 = X_RANGE[night]
    p = figure(width=w, height=h, x_range=Range1d(x0, x1), y_range=Range1d(y0, y1),
               output_backend="svg", toolbar_location=None,
               min_border_left=bl, min_border_right=br,
               min_border_top=bt, min_border_bottom=bb)
    p.grid.visible = False
    p.outline_line_color = FRAME
    p.outline_line_width = 1.4
    p.background_fill_color = "white"
    p.border_fill_color = "white"
    xt = FixedTicker(ticks=X_MAJOR[night], minor_ticks=minors(X_MAJOR[night], X_SUB[night]))
    yt = FixedTicker(ticks=ymaj, minor_ticks=minors(ymaj, 5))
    below = p.below[0]
    left = p.left[0]
    below.ticker = xt
    left.ticker = yt
    above = LinearAxis(ticker=xt)
    right = LinearAxis(ticker=yt)
    p.add_layout(above, "above")
    p.add_layout(right, "right")
    style_axis(below, show_x)
    style_axis(left, show_y)
    style_axis(above, False)
    style_axis(right, False)
    if show_x:
        below.formatter = PrintfTickFormatter(format="%.2f")
        below.major_label_standoff = 2
        below.axis_label = night_dates[night - 1]
        below.axis_label_text_font = SERIF
        below.axis_label_text_font_size = "14px"
        below.axis_label_text_font_style = "normal"
        below.axis_label_text_color = "#222222"
        below.axis_label_standoff = 0
    if show_y:
        left.formatter = PrintfTickFormatter(format="%.2f")
        left.major_label_overrides = {v: ("" if v in yhide else fmt_y(v)) for v in ymaj}
    return p


def draw_series(p, night, vals, err, key):
    t = np.array(TIMES[night], dtype=float)
    v = as_arr(vals, len(t))
    src = ColumnDataSource(dict(x=t, y=v, lo=v - err, hi=v + err))
    col, ecol = COLORS[key]
    p.add_layout(Whisker(base="x", upper="hi", lower="lo", source=src, dimension="height",
                         line_color=ecol, line_width=1,
                         upper_head=TeeHead(size=4, line_color=ecol, line_width=1),
                         lower_head=TeeHead(size=4, line_color=ecol, line_width=1)))
    p.scatter("x", "y", source=src, marker="circle", size=4.5,
              fill_color=col, line_color=col, line_width=0.5)


def label_canvas(x_left, width, y_top, height, text, x, y):
    """Invisible figure whose data coordinates equal page pixels; holds a rotated axis title."""
    f = figure(width=width, height=height, x_range=Range1d(x_left, x_left + width),
               y_range=Range1d(y_top + height, y_top),
               output_backend="svg", toolbar_location=None, min_border=0,
               x_axis_location=None, y_axis_location=None)
    f.outline_line_color = None
    f.grid.visible = False
    f.add_layout(Label(x=x, y=y, text=text, angle=math.pi / 2,
                       text_font=SERIF, text_font_size="20px", text_color="#222222",
                       text_align="center", text_baseline="middle"))
    return f


children = []
grow = 0
for gi, g in enumerate(GROUPS):
    nights = g["nights"]
    positions = TOP_COL_POS if gi == 0 else COL_POS
    for r in range(4):
        h = ROW_FRAME + g["tb"][r] + g["bb"][r]
        for ni, night in enumerate(nights):
            c0, span, bl, br = positions[night]
            w = sum(TRACK_W[c0:c0 + span])
            show_y = (ni == 0)
            show_x = (gi == 2 and r == 3)
            p = make_panel(night, g["ys"][r], w, bl, br, h, g["tb"][r], g["bb"][r], show_y, show_x)
            if r < 3:
                label, data, errs, frac = g["stars"][r]
                draw_series(p, night, data[night], errs[ni], "b")
                if night == 5:
                    (y0, y1) = g["ys"][r][0]
                    x0, x1 = X_RANGE[night]
                    p.add_layout(Label(x=x0 + 0.12 * (x1 - x0), y=y0 + frac * (y1 - y0), text=label,
                                       text_font=SANS, text_font_size="20px",
                                       text_baseline="middle", text_align="left",
                                       text_color="#000000"))
            else:
                for key, data, errs in g["diff"]:
                    draw_series(p, night, data[night], errs[ni], key)
            if gi == 2 and r == 3 and night == 3:
                p.add_layout(Title(text="HJD+", align="left", offset=36, standoff=0,
                                   text_font=SANS, text_font_size="16px",
                                   text_font_style="normal", text_color="#000000"), "below")
            if span == 1:
                children.append((p, grow, c0))
            else:
                children.append((p, grow, c0, 1, span))
        grow += 1

group_h = [ROW_FRAME * 4 + sum(g["tb"]) + sum(g["bb"]) for g in GROUPS]
total_h = sum(group_h)
mid_bot_boundary = PAGE_X0 + group_h[0] + group_h[1]

# left strip (all rows): "V (mag)" for the lower two groups
strip = label_canvas(PAGE_X0, TRACK_W[0], PAGE_X0, total_h, "V (mag)", PAGE_X0 + 13, mid_bot_boundary + 3)
children.append((strip, 0, 0, grow, 1))

# empty top-left block: "V (mag)" for the top group, centred on its third row
top_row3_mid = PAGE_X0 + GROUPS[0]["tb"][0] + ROW_FRAME * 2.5
a_left = PAGE_X0 + TRACK_W[0]
top_lab = label_canvas(a_left, TRACK_W[1], PAGE_X0, group_h[0], "V (mag)", 160, top_row3_mid + 3)
children.append((top_lab, 0, 1, 4, 1))

# zero-height spacers pin every column track to its width
for ci, tw in enumerate(TRACK_W):
    children.append((Spacer(width=tw, height=0), grow, ci))

layout = GridBox(children=children, spacing=0)
open("out.html", "w").write(file_html(layout, INLINE, title="light curves"))
